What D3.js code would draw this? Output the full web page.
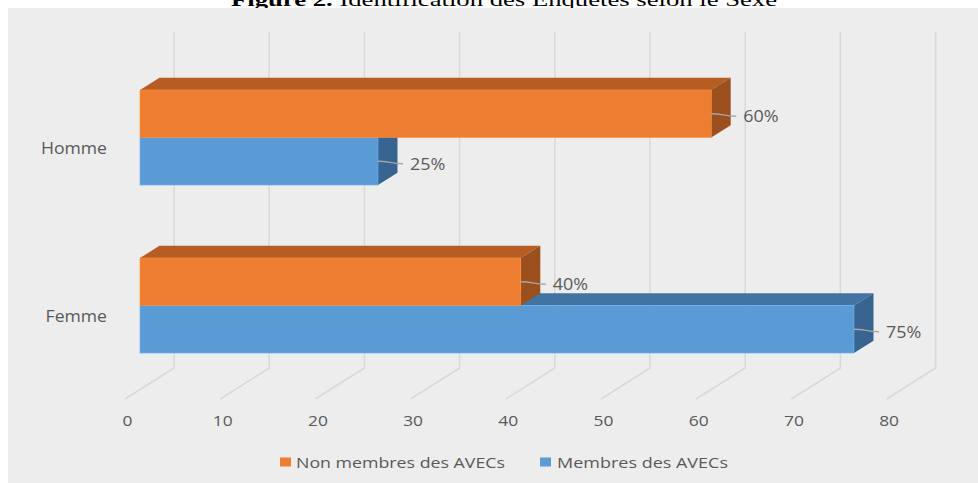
<!DOCTYPE html>
<html>
<head>
<meta charset="utf-8">
<script src="https://cdn.jsdelivr.net/npm/d3@7"></script>
<style>
  html, body { margin: 0; padding: 0; background: #fff; }
  svg { display: block; }
</style>
</head>
<body>
<script>
// ---- data ----
const categories = ["Homme", "Femme"];
const seriesNames = ["Non membres des AVECs", "Membres des AVECs"];
const nonMembres = [60, 40];
const membres = [25, 75];
const xTicks = [0, 10, 20, 30, 40, 50, 60, 70, 80];
const titleBold = "Figure 2.";
const titleRest = " Identification des Enquêtés selon le Sexe";

// ---- layout / style ----
const W = 978, H = 483;
const FONT = "'Open Sans', 'DejaVu Sans', sans-serif";
const TXT = "#595959";
const colors = {
  "Non membres des AVECs": { front: "#ED7D31", top: "#B55D22", side: "#9B4F1C" },
  "Membres des AVECs":     { front: "#5B9BD5", top: "#4174A2", side: "#376490" }
};
const DX = 49, DY = -31, Z0 = 0.306, Z1 = 0.704;
const SX = 1.14; // horizontal text stretch of the original picture

const svg = d3.select("body").append("svg").attr("width", W).attr("height", H);
svg.append("rect").attr("width", W).attr("height", H).attr("fill", "#fff");

// title (cut off at the top)
const title = svg.append("text").attr("x", 231).attr("y", 5.5)
  .attr("font-family", "'Liberation Serif', 'Times New Roman', serif")
  .attr("font-size", 18).attr("fill", "#000");
title.append("tspan").attr("font-weight", "bold").text(titleBold);
title.append("tspan").text(titleRest);
title.attr("textLength", 546).attr("lengthAdjust", "spacingAndGlyphs");

// chart panel
svg.append("rect").attr("x", 8).attr("y", 8).attr("width", W - 8).attr("height", H - 8).attr("fill", "#EDEDED");

// scales
const x = d3.scaleLinear().domain([0, 80]).range([125, 125 + 761.6]);
const y = d3.scaleBand().domain(categories).range([63, 399]);
const ys = d3.scaleBand().domain(seriesNames).range([0, y.bandwidth()]).paddingOuter(0.768);
const P = (v, yy, z) => [x(v) + z * DX, yy + z * DY];

// gridlines on back wall + floor
const grid = svg.append("g");
xTicks.forEach(t => {
  const top = P(t, 63, 1), bot = P(t, 399, 1), fr = P(t, 399, 0);
  grid.append("path")
    .attr("d", `M${top[0]},${top[1]}L${bot[0]},${bot[1]}L${fr[0]},${fr[1]}`)
    .attr("fill", "none").attr("stroke", "#D9D9D9").attr("stroke-width", 1.5);
});

// stretch helper
function stretch(sel, f) {
  sel.each(function () {
    const w = this.getComputedTextLength();
    d3.select(this).attr("textLength", w * f).attr("lengthAdjust", "spacingAndGlyphs");
  });
}

// bars
const bars = svg.append("g");
const labels = svg.append("g");
const poly = pts => "M" + pts.map(p => p.join(",")).join("L") + "Z";
categories.forEach((c, i) => {
  const vals = { "Non membres des AVECs": nonMembres[i], "Membres des AVECs": membres[i] };
  // lower series (blue) first, then upper (orange)
  ["Membres des AVECs", "Non membres des AVECs"].forEach(s => {
    const v = vals[s];
    const t = y(c) + ys(s), b = t + ys.bandwidth();
    const col = colors[s];
    bars.append("path").attr("d", poly([P(0, t, Z0), P(v, t, Z0), P(v, t, Z1), P(0, t, Z1)]))
      .attr("fill", col.top);
    bars.append("path").attr("d", poly([P(v, t, Z0), P(v, t, Z1), P(v, b, Z1), P(v, b, Z0)]))
      .attr("fill", col.side);
    const f0 = P(0, t, Z0), f1 = P(v, b, Z0);
    bars.append("rect").attr("x", f0[0]).attr("y", f0[1])
      .attr("width", f1[0] - f0[0]).attr("height", f1[1] - f0[1])
      .attr("fill", col.front).attr("stroke", d3.color(col.front).brighter(0.4)).attr("stroke-width", 0.6);

    // data label with leader
    const m = P(v, (t + b) / 2, Z0);
    labels.append("path")
      .attr("d", `M${m[0]},${m[1]}C${m[0] + 12},${m[1]} ${m[0] + 12},${m[1] + 2.5} ${m[0] + 25},${m[1] + 2.5}`)
      .attr("fill", "none").attr("stroke", "#A6A6A6").attr("stroke-width", 1.3);
    labels.append("text").attr("x", m[0] + 32).attr("y", m[1] + 2.5)
      .attr("dominant-baseline", "central")
      .attr("font-family", FONT).attr("font-size", 16).attr("fill", TXT)
      .text(v + "%");
  });
});
stretch(labels.selectAll("text"), 1.12);

// x axis labels (front floor edge)
const xa = svg.append("g").attr("transform", "translate(2,421)")
  .call(d3.axisBottom(x).tickValues(xTicks).tickSize(0).tickPadding(0));
xa.select(".domain").remove();
xa.selectAll("text").attr("y", 0).attr("dy", "0.35em")
  .attr("font-family", FONT).attr("font-size", 15).attr("fill", TXT);
stretch(xa.selectAll("text"), 1.16);

// category labels
const ya = svg.append("g").attr("transform", "translate(107,2)")
  .call(d3.axisLeft(y).tickSize(0).tickPadding(0));
ya.select(".domain").remove();
ya.selectAll("text").attr("font-family", FONT).attr("font-size", 16).attr("fill", TXT);
stretch(ya.selectAll("text"), 1.1);

// legend
const legend = svg.append("g");
const legPos = [{ sq: 280, tx: 296, w: 209 }, { sq: 540, tx: 557, w: 171 }];
seriesNames.forEach((s, i) => {
  legend.append("rect").attr("x", legPos[i].sq).attr("y", 457.5).attr("width", 11).attr("height", 9)
    .attr("fill", colors[s].front);
  legend.append("text").attr("x", legPos[i].tx).attr("y", 462).attr("dominant-baseline", "central")
    .attr("font-family", FONT).attr("font-size", 15).attr("fill", TXT)
    .attr("textLength", legPos[i].w).attr("lengthAdjust", "spacingAndGlyphs")
    .text(s);
});
</script>
</body>
</html>
